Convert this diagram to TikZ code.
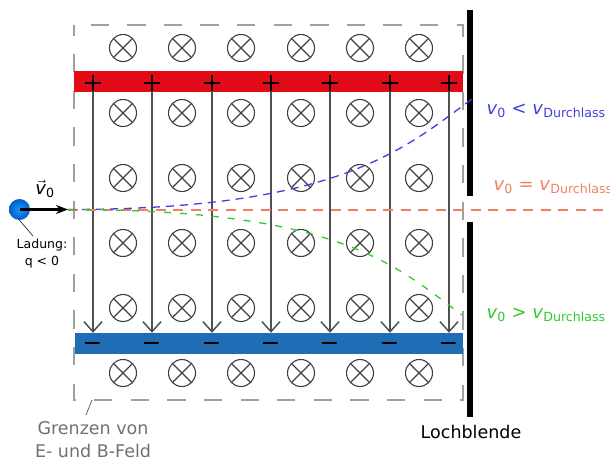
\documentclass[tikz,border=0pt]{standalone}
\usepackage{fontspec}
\setmainfont{DejaVu Sans}
\usetikzlibrary{arrows.meta}
\definecolor{platterot}{HTML}{E30A17}
\definecolor{platteblau}{HTML}{1F6EB5}
\definecolor{strahlblau}{HTML}{4040E0}
\definecolor{strahlorange}{HTML}{F28060}
\definecolor{strahlgruen}{HTML}{30C830}
\definecolor{grenzgrau}{HTML}{A0A0A0}
\definecolor{textgrau}{HTML}{707070}
\definecolor{feldgrau}{HTML}{505050}
\newcommand{\vel}[1]{\textit{v}\textsubscript{#1}}

\begin{document}
\begin{tikzpicture}[x=1pt,y=-1pt,
	bfeld/.style={circle,draw=black!75,line width=1.1pt,minimum size=27pt,inner sep=0pt,
		path picture={\draw[black!75,line width=1.1pt] (path picture bounding box.north west)--(path picture bounding box.south east) (path picture bounding box.north east)--(path picture bounding box.south west);}},
	pluszeichen/.style={minimum size=16pt,inner sep=0pt,
		path picture={\draw[line width=1.6pt] (path picture bounding box.north)--(path picture bounding box.south) (path picture bounding box.west)--(path picture bounding box.east);}},
	minuszeichen/.style={minimum width=15pt,minimum height=20pt,inner sep=0pt,
		path picture={\draw[line width=2pt] (path picture bounding box.west)--(path picture bounding box.east);}},
	efeld/.style={feldgrau,line width=1.5pt,-{Straight Barb[length=10pt,width=18pt]}},
	beschriftung/.style={font=\fontsize{17.5}{23}\selectfont},
	geschw/.style={font=\fontsize{18}{22}\selectfont,anchor=west}]
	\useasboundingbox (0,0) rectangle (610,459);
	% Grenzen der Felder
	\draw[grenzgrau,line width=1.5pt,dash pattern=on 18.3pt off 18.3pt,dash phase=20pt] (74,25) -- (463,25) -- (463,400) -- (74,400) -- cycle;
	% Kondensatorplatten
	\fill[platterot] (74,71) rectangle (463,92);
	\fill[platteblau] (75,333) rectangle (463,354);
	% Lochblende
	\fill (467,10) rectangle (473,196);
	\fill (467,222) rectangle (473,417);
	% B-Feld (in die Ebene)
	\node[bfeld] (b11) at (123,48) {};
	\node[bfeld] (b12) at (182,48) {};
	\node[bfeld] (b13) at (241,48) {};
	\node[bfeld] (b14) at (301,48) {};
	\node[bfeld] (b15) at (360,48) {};
	\node[bfeld] (b16) at (419,48) {};
	\node[bfeld] (b21) at (123,113) {};
	\node[bfeld] (b22) at (182,113) {};
	\node[bfeld] (b23) at (241,113) {};
	\node[bfeld] (b24) at (301,113) {};
	\node[bfeld] (b25) at (360,113) {};
	\node[bfeld] (b26) at (419,113) {};
	\node[bfeld] (b31) at (123,178) {};
	\node[bfeld] (b32) at (182,178) {};
	\node[bfeld] (b33) at (241,178) {};
	\node[bfeld] (b34) at (301,178) {};
	\node[bfeld] (b35) at (360,178) {};
	\node[bfeld] (b36) at (419,178) {};
	\node[bfeld] (b41) at (123,243) {};
	\node[bfeld] (b42) at (182,243) {};
	\node[bfeld] (b43) at (241,243) {};
	\node[bfeld] (b44) at (301,243) {};
	\node[bfeld] (b45) at (360,243) {};
	\node[bfeld] (b46) at (419,243) {};
	\node[bfeld] (b51) at (123,308) {};
	\node[bfeld] (b52) at (182,308) {};
	\node[bfeld] (b53) at (241,308) {};
	\node[bfeld] (b54) at (301,308) {};
	\node[bfeld] (b55) at (360,308) {};
	\node[bfeld] (b56) at (419,308) {};
	\node[bfeld] (b61) at (123,373) {};
	\node[bfeld] (b62) at (182,373) {};
	\node[bfeld] (b63) at (241,373) {};
	\node[bfeld] (b64) at (301,373) {};
	\node[bfeld] (b65) at (360,373) {};
	\node[bfeld] (b66) at (419,373) {};
	% Ladungen auf den Platten
	\node[pluszeichen] (p1) at (93,83) {};
	\node[pluszeichen] (p2) at (152,83) {};
	\node[pluszeichen] (p3) at (212,83) {};
	\node[pluszeichen] (p4) at (271,83) {};
	\node[pluszeichen] (p5) at (330,83) {};
	\node[pluszeichen] (p6) at (390,83) {};
	\node[pluszeichen] (p7) at (449,83) {};
	\node[minuszeichen] (m1) at (92,343) {};
	\node[minuszeichen] (m2) at (151,343) {};
	\node[minuszeichen] (m3) at (211,343) {};
	\node[minuszeichen] (m4) at (270,343) {};
	\node[minuszeichen] (m5) at (329,343) {};
	\node[minuszeichen] (m6) at (389,343) {};
	\node[minuszeichen] (m7) at (448,343) {};
	% E-Feld
	\draw[efeld] (p1.south) -- (p1.south |- m1.north);
	\draw[efeld] (p2.south) -- (p2.south |- m2.north);
	\draw[efeld] (p3.south) -- (p3.south |- m3.north);
	\draw[efeld] (p4.south) -- (p4.south |- m4.north);
	\draw[efeld] (p5.south) -- (p5.south |- m5.north);
	\draw[efeld] (p6.south) -- (p6.south |- m6.north);
	\draw[efeld] (p7.south) -- (p7.south |- m7.north);
	% Bahnen
	\coordinate (strahlstart) at (68,209.5);
	\coordinate (orangeende) at (612,209.5);
	\coordinate (blauende) at (472,99);
	\coordinate (gruenende) at (462,315);
	\draw[strahlorange,line width=2pt,dash pattern=on 10pt off 7.5pt] (strahlstart) -- (orangeende);
	\draw[strahlblau,line width=1.3pt,dash pattern=on 8pt off 6pt] (strahlstart) .. controls (340,209.5) and (405,148) .. (blauende);
	\draw[strahlgruen,line width=1.3pt,dash pattern=on 7pt off 9pt] (strahlstart) .. controls (340,209.5) and (395,265) .. (gruenende);
	% Ladung
	\node[circle,minimum size=21pt,inner sep=0pt,inner color={rgb,255:red,30;green,150;blue,245},outer color={rgb,255:red,0;green,95;blue,200}] (ladung) at (19.5,209.5) {};
	\draw[line width=2.2pt,-{Stealth[length=12pt,width=9pt]}] (ladung.center) -- (strahlstart);
	\node[font=\fontsize{18}{22}\selectfont] (vnull) at (45,189) {$\vec{\mbox{\textit{v}}}$\textsubscript{0}};
	\node[font=\fontsize{12.5}{17}\selectfont,align=center] (ladungtext) at (42,254) {Ladung:\\q < 0};
	\coordinate (ladunghinweis) at (33,236);
	\draw[black!75,line width=0.8pt] (ladung.south) -- (ladunghinweis);
	% Beschriftungen
	\node[geschw,strahlblau] (kleiner) at (483,111) {\vel{0} < \vel{Durchlass}};
	\node[geschw,strahlorange] (gleich) at (490,187) {\vel{0} = \vel{Durchlass}};
	\node[geschw,strahlgruen] (groesser) at (483,315) {\vel{0} > \vel{Durchlass}};
	\node[beschriftung] (lochblende) at (471,432) {Lochblende};
	\node[beschriftung,textgrau,align=center] (grenzen) at (93,439.5) {Grenzen von\\E- und B-Feld};
	\coordinate (grenzmarke) at (92,400);
	\coordinate (grenzhinweis) at (86,415);
	\draw[textgrau,line width=0.9pt] (grenzmarke) -- (grenzhinweis);
\end{tikzpicture}
\end{document}
